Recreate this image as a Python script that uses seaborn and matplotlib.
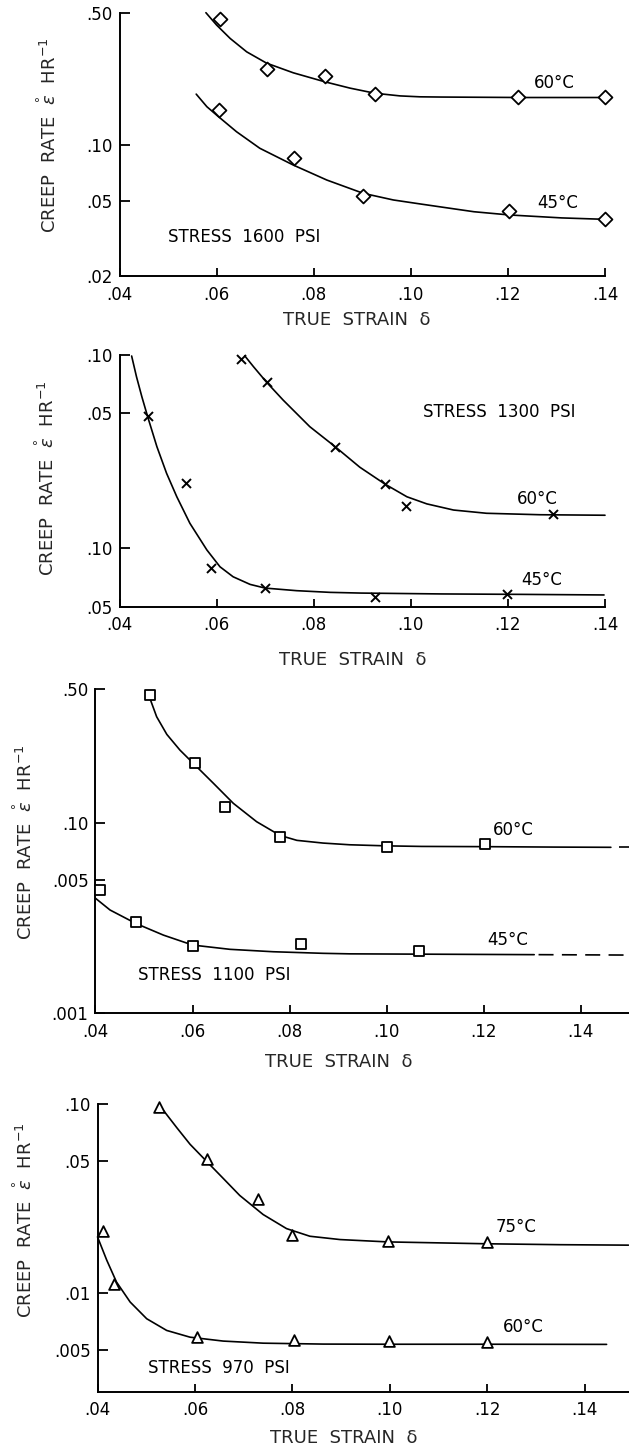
import matplotlib
matplotlib.use("Agg")
import matplotlib.pyplot as plt
from matplotlib.ticker import NullLocator
import seaborn as sns

# ---------------- data ----------------
# Panel 1 : stress 1600 psi (diamonds)
p1_60_pts_x = [0.0607, 0.0703, 0.0824, 0.0926, 0.1220, 0.1400]
p1_60_pts_y = [0.463, 0.251, 0.231, 0.185, 0.179, 0.178]
p1_60_cur_x = [0.0578, 0.0600, 0.0628, 0.0662, 0.0703, 0.0758, 0.0823, 0.0875, 0.0926, 0.0978, 0.1019, 0.1063, 0.1145, 0.1228, 0.1400]
p1_60_cur_y = [0.500, 0.430, 0.365, 0.310, 0.270, 0.240, 0.215, 0.199, 0.187, 0.181, 0.179, 0.1785, 0.178, 0.1775, 0.1775]
p1_45_pts_x = [0.0605, 0.0759, 0.0902, 0.1203, 0.1400]
p1_45_pts_y = [0.152, 0.0845, 0.0534, 0.0446, 0.0401]
p1_45_cur_x = [0.0558, 0.0580, 0.0604, 0.0641, 0.0689, 0.0758, 0.0827, 0.0902, 0.0964, 0.1019, 0.1063, 0.1130, 0.1203, 0.1311, 0.1400]
p1_45_cur_y = [0.185, 0.1586, 0.1404, 0.1169, 0.0955, 0.0778, 0.0648, 0.0551, 0.0508, 0.0484, 0.0466, 0.0440, 0.0423, 0.0408, 0.0401]

# Panel 2 : stress 1300 psi (crosses)
p2_60_pts_x = [0.0650, 0.0703, 0.0844, 0.0947, 0.0990, 0.1293]
p2_60_pts_y = [0.0950, 0.0722, 0.0336, 0.0215, 0.0166, 0.0151]
p2_60_cur_x = [0.0658, 0.0676, 0.0703, 0.0737, 0.0792, 0.0844, 0.0895, 0.0947, 0.0992, 0.1033, 0.1088, 0.1156, 0.1266, 0.1400]
p2_60_cur_y = [0.0990, 0.0870, 0.0723, 0.0585, 0.0426, 0.0336, 0.0263, 0.0215, 0.0185, 0.0170, 0.0158, 0.0152, 0.01494, 0.01485]
p2_45_pts_x = [0.0458, 0.0537, 0.0588, 0.0700, 0.0926, 0.1199]
p2_45_pts_y = [0.0482, 0.0219, 0.00793, 0.00624, 0.00559, 0.00579]
p2_45_cur_x = [0.0425, 0.0435, 0.0446, 0.0458, 0.0477, 0.0497, 0.0518, 0.0545, 0.0580, 0.0607, 0.0634, 0.0669, 0.0700, 0.0765, 0.0834, 0.0898, 0.1063, 0.1228, 0.1398]
p2_45_cur_y = [0.0988, 0.0772, 0.0609, 0.0480, 0.0336, 0.02445, 0.01851, 0.01349, 0.00982, 0.00804, 0.00714, 0.00652, 0.00624, 0.00605, 0.00593, 0.00588, 0.00582, 0.00579, 0.00575]

# Panel 3 : stress 1100 psi (squares)
p3_60_pts_x = [0.0512, 0.0605, 0.0667, 0.0780, 0.1000, 0.1203]
p3_60_pts_y = [0.467, 0.2046, 0.1203, 0.0843, 0.0748, 0.0772]
p3_60_cur_x = [0.0512, 0.0526, 0.0547, 0.0574, 0.0605, 0.0643, 0.0684, 0.0732, 0.0780, 0.0815, 0.0869, 0.0924, 0.1000, 0.1072, 0.1197, 0.1346, 0.1462]
p3_60_cur_y = [0.449, 0.359, 0.290, 0.240, 0.2004, 0.1607, 0.1262, 0.1011, 0.0857, 0.0807, 0.0781, 0.0765, 0.0755, 0.0750, 0.0748, 0.0744, 0.0742]
p3_60_dash_x = [0.1478, 0.1500]
p3_60_dash_y = [0.0742, 0.0742]
p3_45_pts_x = [0.0409, 0.0483, 0.0600, 0.0823, 0.1067]
p3_45_pts_y = [0.0443, 0.0300, 0.0226, 0.0230, 0.0213]
p3_45_cur_x = [0.0400, 0.0430, 0.0483, 0.0540, 0.0600, 0.0677, 0.0766, 0.0869, 0.0924, 0.1114, 0.1304]
p3_45_cur_y = [0.0401, 0.0348, 0.0296, 0.0257, 0.0228, 0.02165, 0.02103, 0.02063, 0.0205, 0.0204, 0.0203]
p3_45_dash_x = [0.1313, 0.1500]
p3_45_dash_y = [0.0203, 0.0202]

# Panel 4 : stress 970 psi (triangles)
p4_75_pts_x = [0.0526, 0.0624, 0.0729, 0.0800, 0.0996, 0.1200]
p4_75_pts_y = [0.0960, 0.0509, 0.0313, 0.0202, 0.0188, 0.0185]
p4_75_cur_x = [0.0532, 0.0563, 0.0590, 0.0624, 0.0658, 0.0692, 0.0740, 0.0788, 0.0836, 0.0898, 0.0996, 0.1200, 0.1350, 0.1490]
p4_75_cur_y = [0.0949, 0.0748, 0.0612, 0.0497, 0.0404, 0.0328, 0.0260, 0.0219, 0.01995, 0.01916, 0.01862, 0.0182, 0.0180, 0.0179]
p4_60_pts_x = [0.0412, 0.0434, 0.0605, 0.0804, 0.0999, 0.1200]
p4_60_pts_y = [0.0212, 0.0111, 0.00583, 0.00560, 0.00558, 0.00551]
p4_60_cur_x = [0.0400, 0.0419, 0.0439, 0.0467, 0.0501, 0.0542, 0.0590, 0.0658, 0.0740, 0.0863, 0.1000, 0.1200, 0.1445]
p4_60_cur_y = [0.0198, 0.0149, 0.01142, 0.00895, 0.0073, 0.00633, 0.00583, 0.00556, 0.00542, 0.00536, 0.00535, 0.00535, 0.00534]

# ticks
x_ticks = [0.04, 0.06, 0.08, 0.10, 0.12, 0.14]
x_labels = [".04", ".06", ".08", ".10", ".12", ".14"]
p1_yticks = [0.5, 0.1, 0.05, 0.02]
p1_ylabels = [".50", ".10", ".05", ".02"]
p2_yticks = [0.1, 0.05, 0.01, 0.005]
p2_ylabels = [".10", ".05", ".10", ".05"]
p3_yticks = [0.5, 0.1, 0.05, 0.01]
p3_ylabels = [".50", ".10", ".005", ".001"]
p4_yticks = [0.1, 0.05, 0.01, 0.005]
p4_ylabels = [".10", ".05", ".01", ".005"]

YLABEL = r"CREEP  RATE  $\overset{\circ}{\varepsilon}$  HR$^{-1}$"
XLABEL = "TRUE  STRAIN  δ"

# ---------------- style ----------------
sns.set_style("ticks")
plt.rcParams["font.family"] = ["DejaVu Sans"]
plt.rcParams["mathtext.fontset"] = "dejavusans"

W, H = 629, 1450
fig = plt.figure(figsize=(W / 100, H / 100), dpi=100)


def px_axes(left, top, right, bottom):
    return fig.add_axes([left / W, 1 - bottom / H, (right - left) / W, (bottom - top) / H])


def style_axes(ax, xlim, ylim, yticks, ylabels):
    ax.set_yscale("log")
    ax.set_xlim(*xlim)
    ax.set_ylim(*ylim)
    ax.set_xticks(x_ticks)
    ax.set_xticklabels(x_labels)
    ax.set_yticks(yticks)
    ax.set_yticklabels(ylabels)
    ax.yaxis.set_minor_locator(NullLocator())
    ax.xaxis.set_minor_locator(NullLocator())
    for s in ["top", "right"]:
        ax.spines[s].set_visible(False)
    for s in ["left", "bottom"]:
        ax.spines[s].set_linewidth(1.4)
        ax.spines[s].set_color("black")
    ax.tick_params(axis="x", direction="in", length=6, width=1.3, pad=7,
                   labelsize=12, colors="black")
    ax.tick_params(axis="y", direction="in", length=7.5, width=1.3, pad=5,
                   labelsize=12, colors="black")
    ax.set_xlabel("")
    ax.set_ylabel("")
    ax.set_facecolor("none")


def curve(ax, x, y, ls="-"):
    sns.lineplot(x=x, y=y, ax=ax, color="black", linewidth=1.2, sort=False,
                 estimator=None, linestyle=ls, clip_on=False, zorder=2)


def points(ax, x, y, marker, s, filled=True):
    if filled:
        sns.scatterplot(x=x, y=y, ax=ax, marker=marker, s=s, facecolor="white",
                        edgecolor="black", linewidth=1.3, clip_on=False, zorder=3)
    else:
        sns.scatterplot(x=x, y=y, ax=ax, marker=marker, s=s, color="black",
                        linewidth=1.4, clip_on=False, zorder=3)


def note(ax, xf, yf, txt, size=12):
    ax.text(xf, yf, txt, transform=ax.transAxes, ha="left", va="center",
            fontsize=size, color="black")


# ---------------- panel 1 ----------------
ax1 = px_axes(119.5, 12.7, 605, 276.3)
curve(ax1, p1_60_cur_x, p1_60_cur_y)
curve(ax1, p1_45_cur_x, p1_45_cur_y)
points(ax1, p1_60_pts_x, p1_60_pts_y, "D", 50)
points(ax1, p1_45_pts_x, p1_45_pts_y, "D", 50)
style_axes(ax1, (0.04, 0.14), (0.02, 0.5), p1_yticks, p1_ylabels)
note(ax1, 0.853, 0.734, "60°C")
note(ax1, 0.861, 0.277, "45°C")
note(ax1, 0.100, 0.150, "STRESS  1600  PSI")

# ---------------- panel 2 ----------------
ax2 = px_axes(119.5, 355, 605, 606.7)
curve(ax2, p2_60_cur_x, p2_60_cur_y)
curve(ax2, p2_45_cur_x, p2_45_cur_y)
points(ax2, p2_60_pts_x, p2_60_pts_y, "x", 42, filled=False)
points(ax2, p2_45_pts_x, p2_45_pts_y, "x", 42, filled=False)
style_axes(ax2, (0.04, 0.14), (0.005, 0.1), p2_yticks, p2_ylabels)
note(ax2, 0.625, 0.775, "STRESS  1300  PSI")
note(ax2, 0.818, 0.427, "60°C")
note(ax2, 0.828, 0.106, "45°C")

# ---------------- panel 3 ----------------
ax3 = px_axes(95.5, 689.3, 629.3, 1013.3)
curve(ax3, p3_60_cur_x, p3_60_cur_y)
curve(ax3, p3_60_dash_x, p3_60_dash_y, ls=(0, (9, 5)))
curve(ax3, p3_45_cur_x, p3_45_cur_y)
curve(ax3, p3_45_dash_x, p3_45_dash_y, ls=(0, (9, 5)))
points(ax3, p3_60_pts_x, p3_60_pts_y, "s", 42)
points(ax3, p3_45_pts_x, p3_45_pts_y, "s", 42)
style_axes(ax3, (0.04, 0.15), (0.01, 0.5), p3_yticks, p3_ylabels)
note(ax3, 0.745, 0.566, "60°C")
note(ax3, 0.734, 0.226, "45°C")
note(ax3, 0.080, 0.118, "STRESS  1100  PSI")

# ---------------- panel 4 ----------------
ax4 = px_axes(97.5, 1104, 628.5, 1391.7)
curve(ax4, p4_75_cur_x, p4_75_cur_y)
curve(ax4, p4_60_cur_x, p4_60_cur_y)
points(ax4, p4_75_pts_x, p4_75_pts_y, "^", 60)
points(ax4, p4_60_pts_x, p4_60_pts_y, "^", 60)
style_axes(ax4, (0.04, 0.149), (0.003, 0.1), p4_yticks, p4_ylabels)
note(ax4, 0.749, 0.574, "75°C")
note(ax4, 0.764, 0.226, "60°C")
note(ax4, 0.096, 0.083, "STRESS  970  PSI")

# ---------------- axis titles ----------------
for (x, y) in [(357, 320), (353, 660), (339, 1062), (344, 1438)]:
    fig.text(x / W, 1 - y / H, XLABEL, ha="center", va="center", fontsize=13)
for (x, y) in [(48, 135), (46, 478), (24, 842), (24, 1220)]:
    fig.text(x / W, 1 - y / H, YLABEL, rotation=90, ha="center", va="center",
             fontsize=13)

fig.savefig("out.png", dpi=100, facecolor="white")
